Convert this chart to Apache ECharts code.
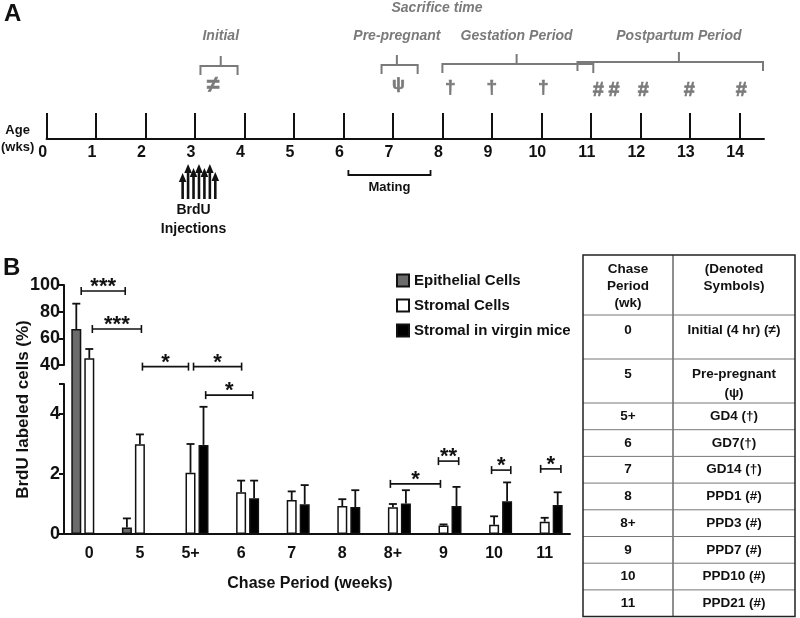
<!DOCTYPE html>
<html>
<head>
<meta charset="utf-8">
<title>BrdU label retention</title>
<script src="https://cdn.jsdelivr.net/npm/echarts@6.0.0/dist/echarts.min.js"></script>
<style>
  html, body { margin: 0; padding: 0; background: #fff; }
  #chart { width: 800px; height: 618px; }
</style>
</head>
<body>
<div id="chart"></div>
<script>
const FONT = 'Liberation Sans, Arial, sans-serif';
const INK = '#111';
const GRAY = '#7a7a7a';

// ---------- panel A : timeline ----------
const ageWeeks = [0, 1, 2, 3, 4, 5, 6, 7, 8, 9, 10, 11, 12, 13, 14];
// label, from week, to week, peak week, height of brace
const braces = [
  ['Initial', 3.11, 3.86, 3.52, 7.3],
  ['Pre-pregnant', 6.77, 7.5, 7.08, 7.4],
  ['Gestation Period', 8.0, 11.05, 9.5, 7.5],
  ['Postpartum Period', 10.73, 14.48, 12.78, 7.7]
];
// week, height, symbol
const sacrificeMarks = [
  [3.37, 5.3, '≠'], [7.11, 5.5, 'ψ'],
  [8.16, 5.1, '†'], [9.0, 5.1, '†'], [10.04, 5.1, '†'],
  [11.15, 4.9, '#'], [11.47, 4.9, '#'], [12.06, 4.9, '#'], [12.99, 4.9, '#'], [14.04, 4.9, '#']
];
const brduWeeks = [2.75, 2.86, 2.97, 3.08, 3.19, 3.30, 3.41];
const brduTops = [-3.4, -2.5, -2.9, -2.5, -2.9, -2.5, -3.3];
const matingWeeks = [6.1, 7.76];

// ---------- panel B : bars ----------
const chaseCats = ['0', '5', '5+', '6', '7', '8', '8+', '9', '10', '11'];
const seriesNames = ['Epithelial Cells', 'Stromal Cells', 'Stromal in virgin mice'];
const epithelial = [67, 0.22, null, null, null, null, null, null, null, null];
const epithelialErr = [19, 0.30, null, null, null, null, null, null, null, null];
const stromal = [45, 2.99, 2.04, 1.39, 1.13, 0.93, 0.89, 0.28, 0.31, 0.41];
const stromalErr = [7, 0.33, 0.96, 0.39, 0.29, 0.23, 0.11, 0.04, 0.28, 0.13];
const virgin = [null, null, 2.97, 1.19, 0.99, 0.90, 1.02, 0.93, 1.09, 0.97];
const virginErr = [null, null, 1.27, 0.59, 0.64, 0.56, 0.44, 0.64, 0.63, 0.42];
// from / to position (in categories from '0'), height (%), stars
const sigBrackets = [
  [-0.16, 0.71, 95.5, '***'],
  [0.06, 1.03, 67, '***'],
  [1.05, 1.96, 37, '*'],
  [2.06, 3.01, 37, '*'],
  [2.30, 3.23, 4.63, '*'],
  [5.95, 6.94, 1.67, '*'],
  [6.90, 7.30, 2.43, '**'],
  [7.95, 8.33, 2.13, '*'],
  [8.92, 9.32, 2.17, '*']
];
const lowTicks = [0, 2, 4, 5];
const lowLabels = [0, 2, 4];

// ---------- table ----------
const tableHead = ['Chase\nPeriod\n(wk)', '(Denoted\nSymbols)'];
const tablePeriods = ['0', '5', '5+', '6', '7', '8', '8+', '9', '10', '11'];
const tableSymbols = ['Initial (4 hr) (≠)', 'Pre-pregnant\n(ψ)', 'GD4 (†)', 'GD7(†)', 'GD14 (†)',
  'PPD1 (#)', 'PPD3 (#)', 'PPD7 (#)', 'PPD10 (#)', 'PPD21 (#)'];

// broken y axis: 0-5 low part, gap, 40-100 high part
const B_LEFT = 64, B_WIDTH = 506, B_TOP = 285;
const HIGH_H = 80, GAP_H = 19, LOW_H = 150;
const LOW_MAX = 5, HIGH_MIN = 40, HIGH_MAX = 100;
const PX = LOW_H / LOW_MAX;            // px per low unit
const GAP_U = GAP_H / PX;
const HIGH_U = HIGH_H / PX;
const DISP_MAX = LOW_MAX + GAP_U + HIGH_U;
function toDisplay(v) {
  if (v == null) return '-';
  if (v <= LOW_MAX) return v;
  if (v < HIGH_MIN) return LOW_MAX + (v - LOW_MAX) / (HIGH_MIN - LOW_MAX) * GAP_U;
  return LOW_MAX + GAP_U + (v - HIGH_MIN) / (HIGH_MAX - HIGH_MIN) * HIGH_U;
}

const BAR_W = 10, BAR_GAP = 0.3;
const barColors = ['#6b6b6b', '#ffffff', '#000000'];
const values = [epithelial, stromal, virgin];
const errs = [epithelialErr, stromalErr, virginErr];

const errData = [];
values.forEach((vals, s) => {
  vals.forEach((v, i) => {
    if (v == null) return;
    errData.push([i, s, toDisplay(v), toDisplay(v + errs[s][i])]);
  });
});

const bold = (size, extra) => Object.assign({ fontFamily: FONT, fontWeight: 'bold', fontSize: size, color: INK }, extra || {});

const chart = echarts.init(document.getElementById('chart'));

// table graphic
const tableEls = [];
const T_LEFT = 583, T_RIGHT = 795, T_SPLIT = 673, T_TOP = 255;
const rowH = [60, 44, 44, 26.7, 26.7, 26.7, 26.7, 26.7, 26.7, 26.7, 26.7];
let yCur = T_TOP;
const rowTops = rowH.map(h => { const t = yCur; yCur += h; return t; });
const T_BOTTOM = yCur;
tableEls.push({ type: 'rect', shape: { x: T_LEFT, y: T_TOP, width: T_RIGHT - T_LEFT, height: T_BOTTOM - T_TOP },
  style: { fill: 'none', stroke: '#222', lineWidth: 1.5 }, z: 10 });
tableEls.push({ type: 'line', shape: { x1: T_SPLIT, y1: T_TOP, x2: T_SPLIT, y2: T_BOTTOM },
  style: { stroke: '#444', lineWidth: 1.2 } });
rowTops.slice(1).forEach(t => tableEls.push({ type: 'line', shape: { x1: T_LEFT, y1: t, x2: T_RIGHT, y2: t },
  style: { stroke: '#777', lineWidth: 1 } }));
const cellText = (x, y, text, va, lh) => ({ type: 'text', x, y,
  style: { text, fill: INK, font: 'bold 13.5px ' + FONT, align: 'center', verticalAlign: va, lineHeight: lh || 17 } });
const c1 = (T_LEFT + T_SPLIT) / 2, c2 = (T_SPLIT + T_RIGHT) / 2;
tableEls.push(cellText(c1, T_TOP + 6, tableHead[0], 'top'));
tableEls.push(cellText(c2, T_TOP + 6, tableHead[1], 'top'));
tablePeriods.forEach((p, i) => {
  const t = rowTops[i + 1], h = rowH[i + 1];
  if (h > 30) {
    tableEls.push(cellText(c1, t + 6, p, 'top', 19));
    tableEls.push(cellText(c2, t + 6, tableSymbols[i], 'top', 19));
  } else {
    tableEls.push(cellText(c1, t + h / 2, p, 'middle'));
    tableEls.push(cellText(c2, t + h / 2, tableSymbols[i], 'middle'));
  }
});

const option = {
  animation: false,
  backgroundColor: '#fff',
  textStyle: { fontFamily: FONT },
  graphic: { elements: [
    { type: 'text', left: 4, top: 2, style: { text: 'A', font: 'bold 24px ' + FONT, fill: INK } },
    { type: 'text', left: 3, top: 256, style: { text: 'B', font: 'bold 24px ' + FONT, fill: INK } },
    { type: 'text', x: 437, y: 8, style: { text: 'Sacrifice time', font: 'italic bold 14px ' + FONT, fill: GRAY, align: 'center', verticalAlign: 'middle' } },
    ...tableEls
  ] },
  legend: {
    data: seriesNames,
    orient: 'vertical',
    left: 396, top: 273, padding: 0,
    itemWidth: 12, itemHeight: 12, itemGap: 10,
    icon: 'rect',
    textStyle: bold(15)
  },
  grid: [
    { left: 46, top: 0, width: 718, height: 139 },
    { left: B_LEFT, top: B_TOP, width: B_WIDTH, height: HIGH_H + GAP_H + LOW_H },
    { left: B_LEFT, top: B_TOP, width: B_WIDTH, height: HIGH_H },
    { left: B_LEFT, top: B_TOP + HIGH_H + GAP_H, width: B_WIDTH, height: LOW_H }
  ],
  xAxis: [
    { gridIndex: 0, type: 'value', min: 0, max: 14.5,
      axisLine: { lineStyle: { color: INK, width: 2 } },
      axisTick: { inside: true, length: 26, customValues: ageWeeks, lineStyle: { color: INK, width: 2 } },
      axisLabel: { customValues: ageWeeks, margin: 6, padding: [0, 8, 0, 0], ...bold(16) },
      splitLine: { show: false },
      name: 'Age\n(wks)', nameLocation: 'start', nameGap: 28,
      nameTextStyle: bold(13, { align: 'center', verticalAlign: 'middle', lineHeight: 17, padding: [8, 0, 0, 0] })
    },
    { gridIndex: 1, type: 'category', data: chaseCats,
      axisLine: { lineStyle: { color: INK, width: 2 } },
      axisTick: { alignWithLabel: true, length: 6, lineStyle: { color: INK, width: 2 } },
      axisLabel: { margin: 12, ...bold(16) },
      name: 'Chase Period (weeks)', nameLocation: 'middle', nameGap: 42,
      nameTextStyle: bold(16, { padding: [0, 14, 0, 0] })
    },
    { gridIndex: 2, type: 'category', data: chaseCats, show: false },
    { gridIndex: 3, type: 'category', data: chaseCats, show: false }
  ],
  yAxis: [
    { gridIndex: 0, type: 'value', min: 0, max: 13.9, show: false },
    { gridIndex: 1, type: 'value', min: 0, max: DISP_MAX,
      axisLine: { show: false }, axisTick: { show: false }, axisLabel: { show: false }, splitLine: { show: false },
      name: 'BrdU labeled cells (%)', nameLocation: 'middle', nameGap: 32,
      nameTextStyle: bold(17)
    },
    { gridIndex: 2, type: 'value', min: HIGH_MIN, max: HIGH_MAX, interval: 20,
      axisLine: { show: true, lineStyle: { color: INK, width: 2 } },
      axisTick: { show: true, length: 5, lineStyle: { color: INK, width: 2 } },
      axisLabel: { margin: 4, ...bold(18) },
      splitLine: { show: false }
    },
    { gridIndex: 3, type: 'value', min: 0, max: LOW_MAX,
      axisLine: { show: true, lineStyle: { color: INK, width: 2 } },
      axisTick: { show: true, length: 5, customValues: lowTicks, lineStyle: { color: INK, width: 2 } },
      axisLabel: { margin: 4, customValues: lowLabels, ...bold(18) },
      splitLine: { show: false }
    }
  ],
  series: [
    ...values.map((vals, s) => ({
      name: seriesNames[s], type: 'bar', xAxisIndex: 1, yAxisIndex: 1,
      barWidth: BAR_W, barGap: (BAR_GAP * 100) + '%',
      itemStyle: { color: barColors[s], borderColor: INK, borderWidth: 1.5 },
      data: vals.map(toDisplay), z: 3
    })),
    { type: 'custom', xAxisIndex: 1, yAxisIndex: 1, z: 2,
      data: errData,
      renderItem(params, api) {
        const x = api.coord([api.value(0), 0])[0] + (api.value(1) - 1) * BAR_W * (1 + BAR_GAP);
        const y0 = api.coord([api.value(0), api.value(2)])[1];
        const y1 = api.coord([api.value(0), api.value(3)])[1];
        const st = { stroke: INK, lineWidth: 1.8 };
        return { type: 'group', children: [
          { type: 'line', shape: { x1: x, y1: y0, x2: x, y2: y1 }, style: st },
          { type: 'line', shape: { x1: x - 4, y1: y1, x2: x + 4, y2: y1 }, style: st }
        ] };
      }
    },
    { type: 'custom', xAxisIndex: 1, yAxisIndex: 1, z: 4,
      data: sigBrackets.map(b => [0, toDisplay(b[2])]),
      renderItem(params, api) {
        const b = sigBrackets[params.dataIndex];
        const base = api.coord([0, api.value(1)]);
        const band = api.size([1, 0])[0];
        const x1 = base[0] + b[0] * band, x2 = base[0] + b[1] * band, y = base[1];
        const st = { stroke: INK, lineWidth: 1.6 };
        return { type: 'group', children: [
          { type: 'line', shape: { x1, y1: y, x2, y2: y }, style: st },
          { type: 'line', shape: { x1, y1: y - 4, x2: x1, y2: y + 4 }, style: st },
          { type: 'line', shape: { x1: x2, y1: y - 4, x2, y2: y + 4 }, style: st },
          { type: 'text', x: (x1 + x2) / 2, y: y - 4,
            style: { text: b[3], font: 'bold 22px ' + FONT, fill: INK, align: 'center', verticalAlign: 'middle' } }
        ] };
      }
    },
    // timeline braces
    { type: 'custom', xAxisIndex: 0, yAxisIndex: 0,
      data: braces.map(b => [b[1], b[4]]),
      renderItem(params, api) {
        const b = braces[params.dataIndex];
        const p1 = api.coord([b[1], b[4]]), p2 = api.coord([b[2], b[4]]);
        const yEnd = api.coord([b[1], b[4] - 0.9])[1];
        const pk = api.coord([b[3], b[4] + 1.0]);
        const lbl = api.coord([b[3], 10.3]);
        const st = { stroke: GRAY, lineWidth: 2, fill: 'none' };
        return { type: 'group', children: [
          { type: 'polyline', shape: { points: [[p1[0], yEnd], [p1[0], p1[1]], [p2[0], p2[1]], [p2[0], yEnd]] }, style: st },
          { type: 'line', shape: { x1: pk[0], y1: p1[1], x2: pk[0], y2: pk[1] }, style: st },
          { type: 'text', x: lbl[0], y: lbl[1],
            style: { text: b[0], font: 'italic bold 14px ' + FONT, fill: GRAY, align: 'center', verticalAlign: 'middle' } }
        ] };
      }
    },
    // sacrifice symbols
    { type: 'custom', xAxisIndex: 0, yAxisIndex: 0,
      data: sacrificeMarks.map(m => [m[0], m[1]]),
      renderItem(params, api) {
        const m = sacrificeMarks[params.dataIndex];
        const p = api.coord([m[0], m[1]]);
        const size = { '≠': 23, 'ψ': 17, '†': 19, '#': 20 }[m[2]];
        return { type: 'text', x: p[0], y: p[1],
          style: { text: m[2], font: 'bold ' + size + 'px ' + FONT, fill: GRAY, align: 'center', verticalAlign: 'middle',
            stroke: GRAY, lineWidth: 0.6 } };
      }
    },
    // BrdU injection arrows
    { type: 'custom', xAxisIndex: 0, yAxisIndex: 0,
      data: brduWeeks.map((w, i) => [w, brduTops[i]]),
      renderItem(params, api) {
        const top = api.coord([api.value(0), api.value(1)]);
        const bot = api.coord([api.value(0), -6.0]);
        const x = top[0];
        const children = [
          { type: 'line', shape: { x1: x, y1: bot[1], x2: x, y2: top[1] + 7 }, style: { stroke: INK, lineWidth: 2.6 } },
          { type: 'polygon', shape: { points: [[x - 3.8, top[1] + 9], [x + 3.8, top[1] + 9], [x, top[1]]] }, style: { fill: INK } }
        ];
        if (params.dataIndex === 0) {
          const lbl = api.coord([2.97, -8.05]);
          children.push({ type: 'text', x: lbl[0], y: lbl[1],
            style: { text: 'BrdU\nInjections', font: 'bold 14px ' + FONT, fill: INK, align: 'center', verticalAlign: 'middle', lineHeight: 19 } });
        }
        return { type: 'group', children };
      }
    },
    // mating bracket
    { type: 'custom', xAxisIndex: 0, yAxisIndex: 0,
      data: [[matingWeeks[0], -3.6, matingWeeks[1]]],
      renderItem(params, api) {
        const p1 = api.coord([api.value(0), api.value(1)]);
        const p2 = api.coord([api.value(2), api.value(1)]);
        const st = { stroke: INK, lineWidth: 1.8, fill: 'none' };
        return { type: 'group', children: [
          { type: 'polyline', shape: { points: [[p1[0], p1[1] - 5], [p1[0], p1[1]], [p2[0], p2[1]], [p2[0], p2[1] - 5]] }, style: st },
          { type: 'text', x: (p1[0] + p2[0]) / 2, y: p1[1] + 12,
            style: { text: 'Mating', font: 'bold 13px ' + FONT, fill: INK, align: 'center', verticalAlign: 'middle' } }
        ] };
      }
    }
  ]
};
chart.setOption(option);
</script>
</body>
</html>
